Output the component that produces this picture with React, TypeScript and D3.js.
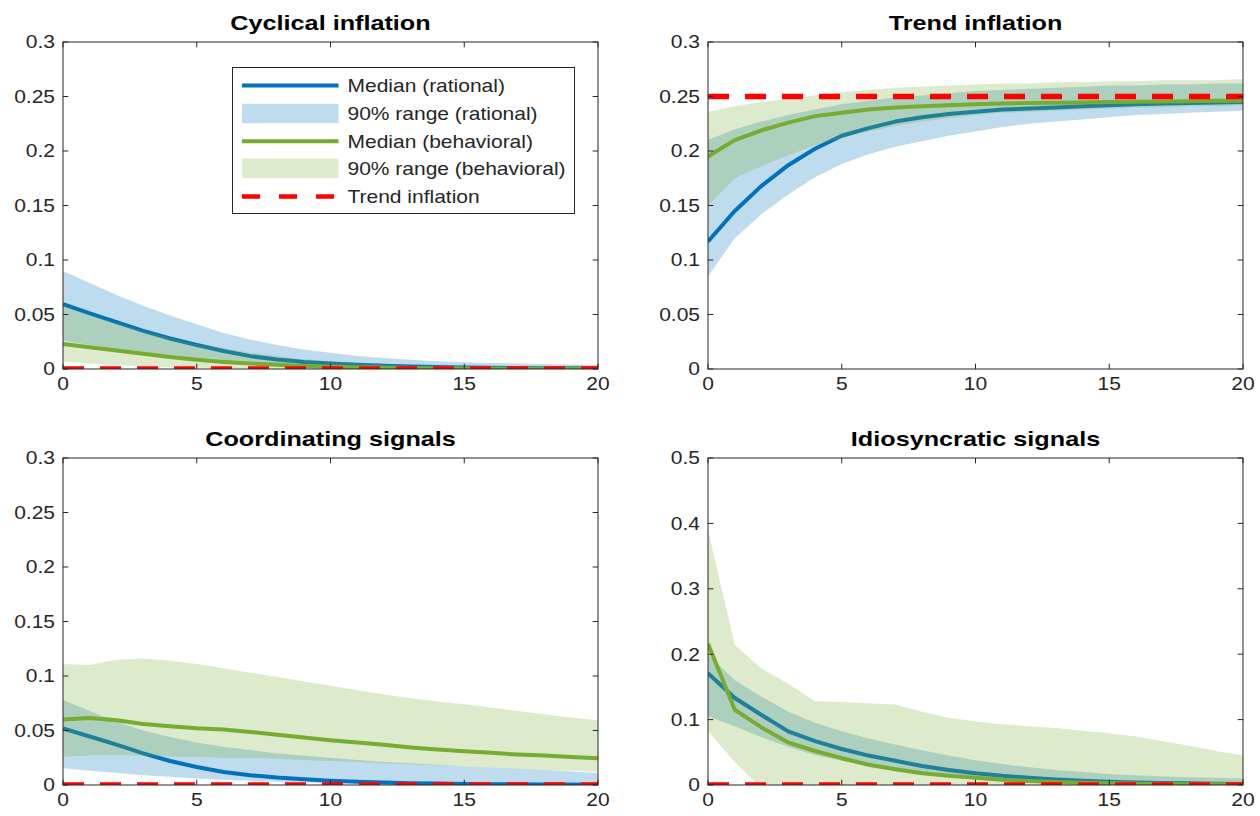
import React from 'react';
import * as d3 from 'd3';

// ---------- data ----------
const horizon = [0, 1, 2, 3, 4, 5, 6, 7, 8, 9, 10, 11, 12, 13, 14, 15, 16, 17, 18, 19, 20];
const xTicks = [0, 5, 10, 15, 20];
const yTicks03 = [0, 0.05, 0.1, 0.15, 0.2, 0.25, 0.3];
const yLabels03 = ['0', '0.05', '0.1', '0.15', '0.2', '0.25', '0.3'];
const yTicks05 = [0, 0.1, 0.2, 0.3, 0.4, 0.5];
const yLabels05 = ['0', '0.1', '0.2', '0.3', '0.4', '0.5'];
const panelTitles = ['Cyclical inflation', 'Trend inflation', 'Coordinating signals', 'Idiosyncratic signals'];
const legendLabels = ['Median (rational)', '90% range (rational)', 'Median (behavioral)', '90% range (behavioral)', 'Trend inflation'];
const trendLevels = [0, 0.25, 0, 0];

// Cyclical inflation
const cycRatMed = [0.0595, 0.051, 0.043, 0.035, 0.028, 0.022, 0.0165, 0.0118, 0.0087, 0.0065, 0.005, 0.0038, 0.003, 0.0023, 0.0018, 0.0014, 0.0011, 0.0009, 0.0007, 0.0006, 0.0005];
const cycRatLo = [0.026, 0.022, 0.018, 0.015, 0.012, 0.0095, 0.0075, 0.006, 0.0047, 0.0037, 0.003, 0.0024, 0.0019, 0.0015, 0.0012, 0.001, 0.0008, 0.0007, 0.0006, 0.0005, 0.0004];
const cycRatHi = [0.09, 0.079, 0.068, 0.058, 0.049, 0.041, 0.033, 0.027, 0.022, 0.018, 0.015, 0.012, 0.01, 0.0085, 0.0072, 0.0062, 0.0055, 0.005, 0.0045, 0.0042, 0.004];
const cycBehMed = [0.023, 0.02, 0.017, 0.014, 0.011, 0.0085, 0.0065, 0.005, 0.0038, 0.0028, 0.002, 0.0015, 0.0011, 0.0008, 0.0006, 0.0005, 0.0004, 0.0003, 0.0003, 0.0002, 0.0002];
const cycBehLo = [0.0067, 0.005, 0.0035, 0.0025, 0.0017, 0.0012, 0.0008, 0.0005, 0.0003, 0.0002, 0.0001, 0, 0, 0, 0, 0, 0, 0, 0, 0, 0];
const cycBehHi = [0.058, 0.05, 0.042, 0.035, 0.029, 0.023, 0.019, 0.015, 0.012, 0.009, 0.007, 0.0055, 0.0045, 0.0035, 0.003, 0.0025, 0.0021, 0.0018, 0.0015, 0.0013, 0.0012];

// Trend inflation
const trdRatMed = [0.117, 0.145, 0.168, 0.187, 0.202, 0.214, 0.221, 0.227, 0.231, 0.234, 0.236, 0.238, 0.239, 0.240, 0.241, 0.242, 0.243, 0.2435, 0.244, 0.2445, 0.245];
const trdRatLo = [0.085, 0.12, 0.142, 0.16, 0.176, 0.188, 0.197, 0.204, 0.209, 0.214, 0.218, 0.222, 0.225, 0.227, 0.229, 0.231, 0.233, 0.234, 0.235, 0.236, 0.237];
const trdRatHi = [0.21, 0.22, 0.227, 0.233, 0.238, 0.243, 0.246, 0.249, 0.251, 0.253, 0.255, 0.256, 0.257, 0.258, 0.259, 0.26, 0.26, 0.261, 0.261, 0.262, 0.262];
const trdBehMed = [0.195, 0.21, 0.219, 0.226, 0.232, 0.235, 0.238, 0.24, 0.241, 0.242, 0.243, 0.2435, 0.244, 0.2443, 0.2446, 0.245, 0.2452, 0.2455, 0.2457, 0.246, 0.246];
const trdBehLo = [0.15, 0.175, 0.186, 0.196, 0.205, 0.212, 0.218, 0.223, 0.227, 0.23, 0.233, 0.235, 0.236, 0.237, 0.238, 0.239, 0.24, 0.24, 0.241, 0.241, 0.242];
const trdBehHi = [0.236, 0.241, 0.245, 0.248, 0.251, 0.254, 0.256, 0.258, 0.259, 0.26, 0.261, 0.262, 0.262, 0.263, 0.263, 0.264, 0.264, 0.265, 0.265, 0.265, 0.266];

// Coordinating signals
const crdRatMed = [0.052, 0.0445, 0.037, 0.029, 0.022, 0.0165, 0.012, 0.009, 0.0068, 0.0052, 0.004, 0.003, 0.0023, 0.0017, 0.0013, 0.001, 0.0008, 0.0006, 0.0005, 0.0004, 0.0003];
const crdRatLo = [0.0153, 0.013, 0.011, 0.009, 0.0075, 0.006, 0.0048, 0.0038, 0.003, 0.0024, 0.0019, 0.0015, 0.0012, 0.001, 0.0008, 0.0006, 0.0005, 0.0004, 0.0003, 0.0002, 0.0002];
const crdRatHi = [0.078, 0.068, 0.058, 0.05, 0.044, 0.039, 0.035, 0.032, 0.029, 0.027, 0.025, 0.023, 0.021, 0.02, 0.0185, 0.017, 0.016, 0.015, 0.014, 0.0125, 0.011];
const crdBehMed = [0.06, 0.0615, 0.0595, 0.056, 0.054, 0.052, 0.051, 0.0487, 0.046, 0.0435, 0.041, 0.039, 0.037, 0.0345, 0.0325, 0.031, 0.0295, 0.028, 0.027, 0.0257, 0.0245];
const crdBehLo = [0.026, 0.027, 0.027, 0.027, 0.026, 0.026, 0.025, 0.025, 0.024, 0.023, 0.022, 0.021, 0.02, 0.019, 0.018, 0.017, 0.016, 0.015, 0.014, 0.013, 0.012];
const crdBehHi = [0.111, 0.11, 0.115, 0.116, 0.114, 0.111, 0.107, 0.103, 0.099, 0.095, 0.091, 0.087, 0.083, 0.0795, 0.0767, 0.074, 0.071, 0.068, 0.065, 0.062, 0.0595];

// Idiosyncratic signals
const idoRatMed = [0.171, 0.133, 0.107, 0.082, 0.067, 0.055, 0.045, 0.037, 0.029, 0.023, 0.018, 0.014, 0.011, 0.0085, 0.0065, 0.005, 0.004, 0.003, 0.0025, 0.002, 0.0015];
const idoRatLo = [0.105, 0.09, 0.073, 0.058, 0.046, 0.037, 0.029, 0.022, 0.017, 0.013, 0.01, 0.0075, 0.0055, 0.004, 0.003, 0.0022, 0.0017, 0.0013, 0.001, 0.0008, 0.0006];
const idoRatHi = [0.2, 0.16, 0.135, 0.112, 0.095, 0.082, 0.071, 0.062, 0.053, 0.045, 0.038, 0.032, 0.027, 0.023, 0.02, 0.017, 0.015, 0.013, 0.012, 0.011, 0.01];
const idoBehMed = [0.216, 0.115, 0.088, 0.065, 0.052, 0.041, 0.031, 0.024, 0.018, 0.014, 0.011, 0.008, 0.006, 0.0045, 0.0035, 0.0027, 0.002, 0.0015, 0.0012, 0.001, 0.0008];
const idoBehLo = [0.082, 0.035, -0.005, -0.004, -0.003, -0.002, -0.001, 0, 0, 0, 0, 0, 0, 0, 0, 0, 0, 0, 0, 0, 0];
const idoBehHi = [0.39, 0.214, 0.178, 0.155, 0.128, 0.127, 0.125, 0.123, 0.112, 0.103, 0.097, 0.093, 0.09, 0.087, 0.083, 0.079, 0.074, 0.067, 0.06, 0.052, 0.045];

// ---------- styling ----------
const FONT = '"Liberation Sans", Arial, Helvetica, sans-serif';
const BLUE = '#0072BD';
const GREEN = '#77AC30';
const RED = '#FF0000';
const AX = '#262626';
const TICK_FS = 17.5;
const TICK_SX = 1.2;
const LEG_FS = 17.5;
const LEG_SX = 1.2;
const TITLE_FS = 20.5;
const TITLE_SX = 1.23;

type PanelDef = {
  title: string;
  ymax: number;
  yTicks: number[];
  yLabels: string[];
  ratMed: number[]; ratLo: number[]; ratHi: number[];
  behMed: number[]; behLo: number[]; behHi: number[];
  trend: number;
  legend: boolean;
};

const panels: PanelDef[] = [
  { title: panelTitles[0], ymax: 0.3, yTicks: yTicks03, yLabels: yLabels03, ratMed: cycRatMed, ratLo: cycRatLo, ratHi: cycRatHi, behMed: cycBehMed, behLo: cycBehLo, behHi: cycBehHi, trend: trendLevels[0], legend: true },
  { title: panelTitles[1], ymax: 0.3, yTicks: yTicks03, yLabels: yLabels03, ratMed: trdRatMed, ratLo: trdRatLo, ratHi: trdRatHi, behMed: trdBehMed, behLo: trdBehLo, behHi: trdBehHi, trend: trendLevels[1], legend: false },
  { title: panelTitles[2], ymax: 0.3, yTicks: yTicks03, yLabels: yLabels03, ratMed: crdRatMed, ratLo: crdRatLo, ratHi: crdRatHi, behMed: crdBehMed, behLo: crdBehLo, behHi: crdBehHi, trend: trendLevels[2], legend: false },
  { title: panelTitles[3], ymax: 0.5, yTicks: yTicks05, yLabels: yLabels05, ratMed: idoRatMed, ratLo: idoRatLo, ratHi: idoRatHi, behMed: idoBehMed, behLo: idoBehLo, behHi: idoBehHi, trend: trendLevels[3], legend: false },
];

function T(props: { x: number; y: number; anchor?: string; fs: number; sx: number; weight?: string; fill?: string; children: React.ReactNode }) {
  const { x, y, anchor = 'start', fs, sx, weight = 'normal', fill = AX, children } = props;
  return (
    <text
      transform={`translate(${x},${y}) scale(${sx},1)`}
      textAnchor={anchor}
      fontFamily={FONT}
      fontSize={fs}
      fontWeight={weight}
      fill={fill}
    >
      {children}
    </text>
  );
}

function Legend({ x0, y0 }: { x0: number; y0: number }) {
  const w = 342, h = 146;
  const rowY = [18, 46, 73.7, 100.8, 129];
  const lx0 = 9.5, lx1 = 106, tx = 115;
  return (
    <g transform={`translate(${x0},${y0})`}>
      <rect x={0} y={0} width={w} height={h} fill="#fff" stroke={AX} strokeWidth={1} />
      <line x1={lx0} x2={lx1} y1={rowY[0]} y2={rowY[0]} stroke={BLUE} strokeWidth={4} />
      <rect x={lx0} y={rowY[1] - 9.7} width={lx1 - lx0} height={19.4} fill={BLUE} fillOpacity={0.25} />
      <line x1={lx0} x2={lx1} y1={rowY[2]} y2={rowY[2]} stroke={GREEN} strokeWidth={4} />
      <rect x={lx0} y={rowY[3] - 9.7} width={lx1 - lx0} height={19.4} fill={GREEN} fillOpacity={0.25} />
      <line x1={lx0} x2={lx1} y1={rowY[4]} y2={rowY[4]} stroke={RED} strokeWidth={4.5} strokeDasharray="18 19" />
      {legendLabels.map((lab, i) => (
        <T key={i} x={tx} y={rowY[i] + 6.3} fs={LEG_FS} sx={LEG_SX}>{lab}</T>
      ))}
    </g>
  );
}

function Panel({ p, left, top, width, height, idx }: { p: PanelDef; left: number; top: number; width: number; height: number; idx: number }) {
  const x = d3.scaleLinear().domain([0, 20]).range([left, left + width]);
  const y = d3.scaleLinear().domain([0, p.ymax]).range([top + height, top]);
  const band = (lo: number[], hi: number[]) =>
    d3.area<number>().x((d) => x(d)).y0((_, i) => y(lo[i])).y1((_, i) => y(hi[i]))(horizon) || '';
  const line = (v: number[]) => d3.line<number>().x((d) => x(d)).y((_, i) => y(v[i]))(horizon) || '';
  const clipId = `clip${idx}`;
  const tl = 5.3;
  const bottom = top + height;
  const right = left + width;
  return (
    <g>
      <defs>
        <clipPath id={clipId}>
          <rect x={left} y={top} width={width} height={height} />
        </clipPath>
      </defs>
      <g clipPath={`url(#${clipId})`}>
        <path d={band(p.ratLo, p.ratHi)} fill={BLUE} fillOpacity={0.25} stroke="none" />
        <path d={line(p.ratMed)} fill="none" stroke={BLUE} strokeWidth={4} strokeLinejoin="round" />
        <path d={band(p.behLo, p.behHi)} fill={GREEN} fillOpacity={0.25} stroke="none" />
        <path d={line(p.behMed)} fill="none" stroke={GREEN} strokeWidth={4} strokeLinejoin="round" />
        <line x1={x(0)} x2={x(20)} y1={y(p.trend)} y2={y(p.trend)} stroke={RED} strokeWidth={5.5} strokeDasharray="21 16" />
      </g>
      {/* axes box */}
      <rect x={left} y={top} width={width} height={height} fill="none" stroke={AX} strokeWidth={1} />
      {xTicks.map((t) => (
        <g key={`xt${t}`}>
          <line x1={x(t)} x2={x(t)} y1={bottom} y2={bottom - tl} stroke={AX} strokeWidth={1} />
          <line x1={x(t)} x2={x(t)} y1={top} y2={top + tl} stroke={AX} strokeWidth={1} />
          <T x={x(t)} y={bottom + 20.5} anchor="middle" fs={TICK_FS} sx={TICK_SX}>{String(t)}</T>
        </g>
      ))}
      {p.yTicks.map((t, i) => (
        <g key={`yt${i}`}>
          <line x1={left} x2={left + tl} y1={y(t)} y2={y(t)} stroke={AX} strokeWidth={1} />
          <line x1={right} x2={right - tl} y1={y(t)} y2={y(t)} stroke={AX} strokeWidth={1} />
          <T x={left - 8} y={y(t) + 6.3} anchor="end" fs={TICK_FS} sx={TICK_SX}>{p.yLabels[i]}</T>
        </g>
      ))}
      <T x={(left + right) / 2} y={top - 12} anchor="middle" fs={TITLE_FS} sx={TITLE_SX} weight="bold" fill="#000">{p.title}</T>
      {p.legend && <Legend x0={232.5} y0={67.5} />}
    </g>
  );
}

export default function App() {
  const lefts = [63, 708, 63, 708];
  const tops = [42, 42, 458, 458];
  const width = 535;
  const height = 327;
  return (
    <svg width={1260} height={816} style={{ position: 'absolute', left: 0, top: 0, background: '#fff' }}>
      <rect x={0} y={0} width={1260} height={816} fill="#fff" />
      {panels.map((p, i) => (
        <Panel key={i} idx={i} p={p} left={lefts[i]} top={tops[i]} width={width} height={height} />
      ))}
    </svg>
  );
}
